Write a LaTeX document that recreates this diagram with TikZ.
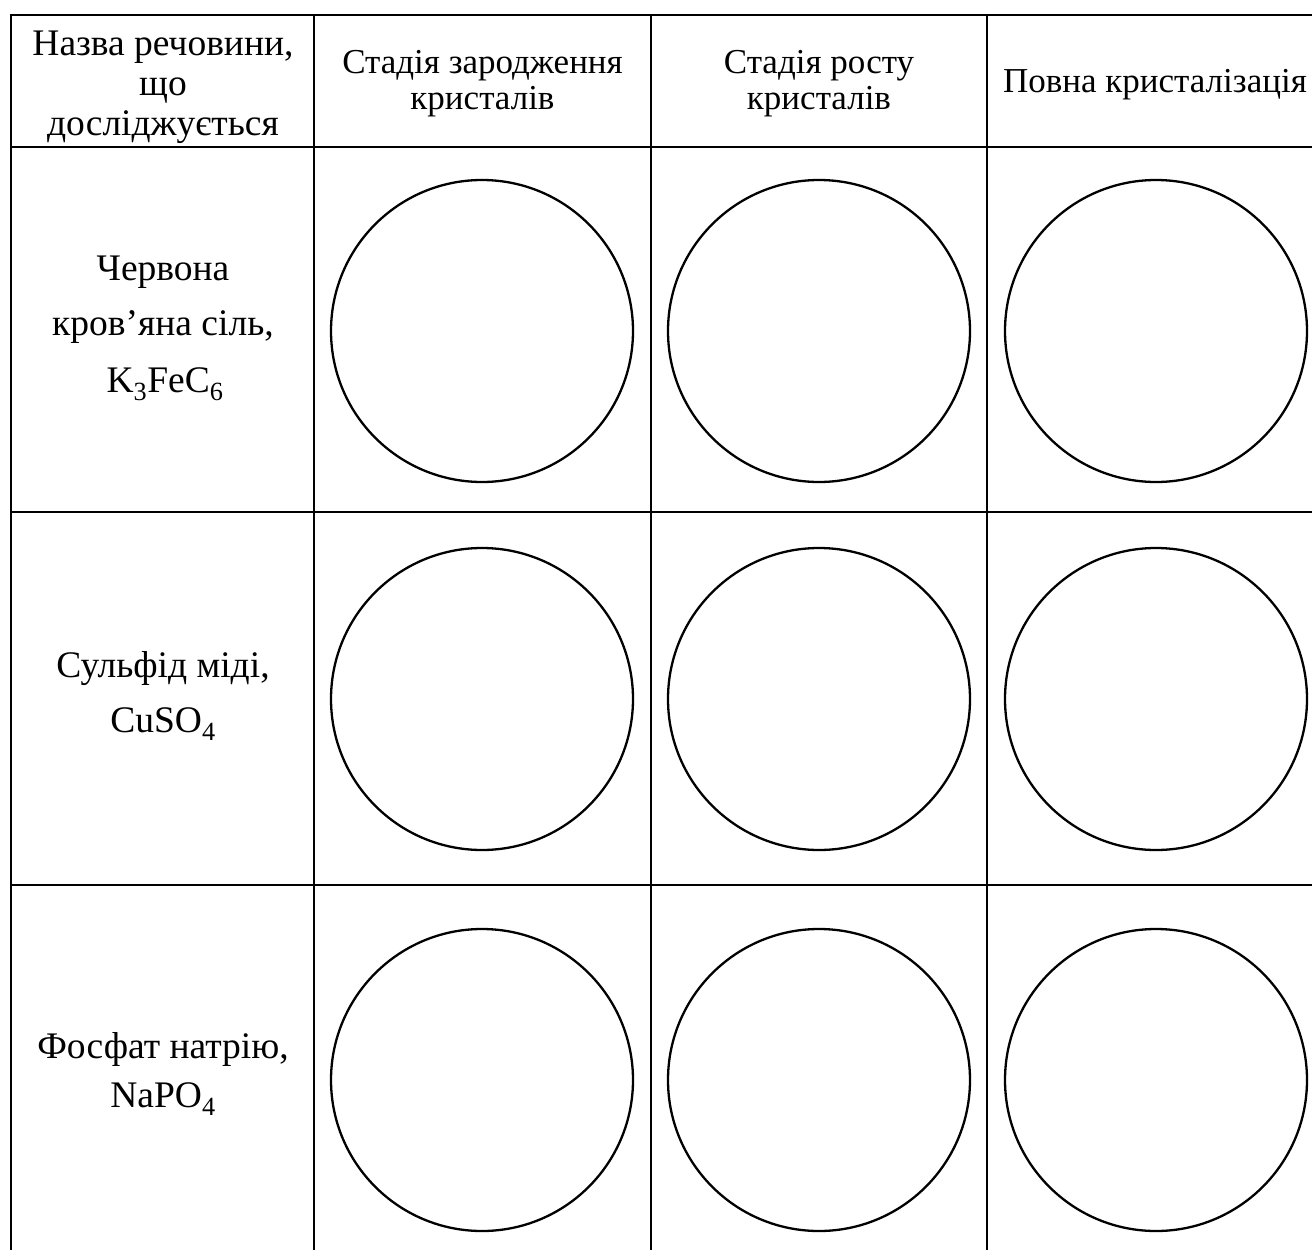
\documentclass[tikz,border=0pt]{standalone}
\usepackage{fontspec}
\setmainfont{Liberation Serif}
\begin{document}
\begin{tikzpicture}[x=1pt,y=-1pt,
  grid/.style={line width=2.2pt,black},
  well/.style={circle,draw=black,line width=2.3pt,minimum size=302pt,inner sep=0pt},
  txt/.style={anchor=base,inner sep=0pt,font=\fontsize{37.5}{42}\selectfont},
  htxt/.style={anchor=base,inner sep=0pt,font=\fontsize{35}{40}\selectfont}]
\useasboundingbox (0,0) rectangle (1312,1250);
% grid
\draw[grid] (11,15) -- (1320,15);
\draw[grid] (11,147) -- (1320,147);
\draw[grid] (11,512) -- (1320,512);
\draw[grid] (11,885) -- (1320,885);
\draw[grid] (11,13.9) -- (11,1260);
\draw[grid] (314,13.9) -- (314,1260);
\draw[grid] (651,13.9) -- (651,1260);
\draw[grid] (987,13.9) -- (987,1260);
% header
\node[txt] (h1a) at (163,55) {Назва речовини,};
\node[txt] (h1b) at (163,95) {що};
\node[txt] (h1c) at (163,135) {досліджується};
\node[htxt] (h2a) at (482.5,73) {Стадія зародження};
\node[htxt] (h2b) at (482.5,109) {кристалів};
\node[htxt] (h3a) at (819,73) {Стадія росту};
\node[htxt] (h3b) at (819,109) {кристалів};
\node[htxt] (h4a) at (1155,92) {Повна кристалізація};
% left column
\node[txt] (r1a) at (163,280) {Червона};
\node[txt] (r1b) at (163,335) {кров’яна сіль,};
\node[txt] (r1c) at (165,392) {K\textsubscript{3}FeC\textsubscript{6}};
\node[txt] (r2a) at (163,677) {Сульфід міді,};
\node[txt] (r2b) at (163,732) {CuSO\textsubscript{4}};
\node[txt] (r3a) at (163,1058) {Фосфат натрію,};
\node[txt] (r3b) at (163,1107) {NaPO\textsubscript{4}};
% circles
\node[well] (c11) at (482,331) {};
\node[well] (c12) at (819,331) {};
\node[well] (c13) at (1156,331) {};
\node[well] (c21) at (482,699) {};
\node[well] (c22) at (819,699) {};
\node[well] (c23) at (1156,699) {};
\node[well] (c31) at (482,1080) {};
\node[well] (c32) at (819,1080) {};
\node[well] (c33) at (1156,1080) {};
\end{tikzpicture}
\end{document}
